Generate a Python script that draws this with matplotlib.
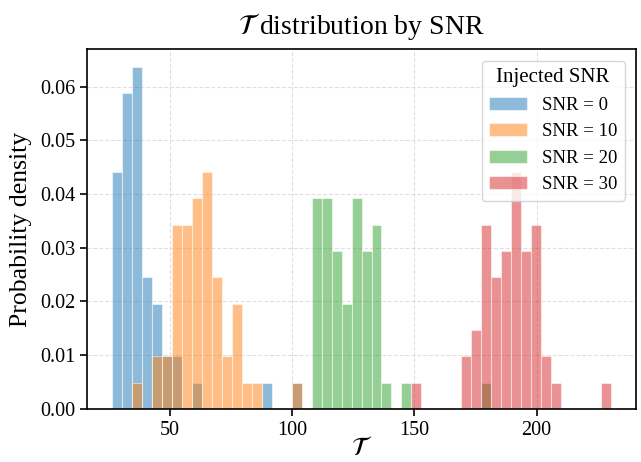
import numpy as np
import matplotlib
matplotlib.use("Agg")
import matplotlib.pyplot as plt

plt.rcParams["font.family"] = ["Liberation Serif", "DejaVu Serif"]
plt.rcParams["mathtext.fontset"] = "stix"

# shared histogram bins (T values)
bin_lo, bin_hi, n_bins = 26.5, 230.4, 50

# counts per bin (50 samples per SNR)
labels = ["SNR = 0", "SNR = 10", "SNR = 20", "SNR = 30"]
counts_snr0 = [9, 12, 13, 5, 4, 2, 2, 0, 1, 0,
               0, 0, 0, 0, 0, 1, 0, 0, 1, 0,
               0, 0, 0, 0, 0, 0, 0, 0, 0, 0,
               0, 0, 0, 0, 0, 0, 0, 0, 0, 0,
               0, 0, 0, 0, 0, 0, 0, 0, 0, 0]
counts_snr10 = [0, 0, 1, 0, 2, 2, 7, 7, 8, 9,
                5, 2, 4, 1, 1, 0, 0, 0, 1, 0,
                0, 0, 0, 0, 0, 0, 0, 0, 0, 0,
                0, 0, 0, 0, 0, 0, 0, 0, 0, 0,
                0, 0, 0, 0, 0, 0, 0, 0, 0, 0]
counts_snr20 = [0, 0, 0, 0, 0, 0, 0, 0, 0, 0,
                0, 0, 0, 0, 0, 0, 0, 0, 0, 0,
                8, 8, 6, 4, 8, 6, 7, 1, 0, 1,
                0, 0, 0, 0, 0, 0, 0, 1, 0, 0,
                0, 0, 0, 0, 0, 0, 0, 0, 0, 0]
counts_snr30 = [0, 0, 0, 0, 0, 0, 0, 0, 0, 0,
                0, 0, 0, 0, 0, 0, 0, 0, 0, 0,
                0, 0, 0, 0, 0, 0, 0, 0, 0, 0,
                1, 0, 0, 0, 0, 2, 3, 7, 5, 6,
                9, 6, 7, 2, 1, 0, 0, 0, 0, 1]
colors = ["#1f77b4", "#ff7f0e", "#2ca02c", "#d62728"]

edges = np.linspace(bin_lo, bin_hi, n_bins + 1)
centers = 0.5 * (edges[:-1] + edges[1:])

fig = plt.figure(figsize=(6.41, 4.62), dpi=100)
ax = fig.add_axes([0.136, 0.115, 0.856, 0.778])

for c, lab, col in zip([counts_snr0, counts_snr10, counts_snr20, counts_snr30], labels, colors):
    ax.hist(centers, bins=edges, weights=c, density=True, color=col, alpha=0.5,
            edgecolor="white", linewidth=0.8, label=lab)

ax.grid(True, ls="--", color="#cccccc", alpha=0.6, lw=0.8)
ax.set_axisbelow(True)
for s in ax.spines.values():
    s.set_linewidth(1.2)
ax.tick_params(direction="out", length=5, width=1.2, labelsize=14.5)

ax.set_xlabel(r"$\mathcal{T}$", fontsize=19, labelpad=-2)
ax.set_ylabel("Probability density", fontsize=18.5, labelpad=6)
ax.set_title(r"$\mathcal{T}$ distribution by SNR", fontsize=20, pad=11)
ax.set_xticks([50, 100, 150, 200])

leg = ax.legend(title="Injected SNR", fontsize=13.5, title_fontsize=15, loc="upper right",
                framealpha=0.8, edgecolor="#cccccc", borderaxespad=0.6)

fig.savefig("out.png", dpi=100)
